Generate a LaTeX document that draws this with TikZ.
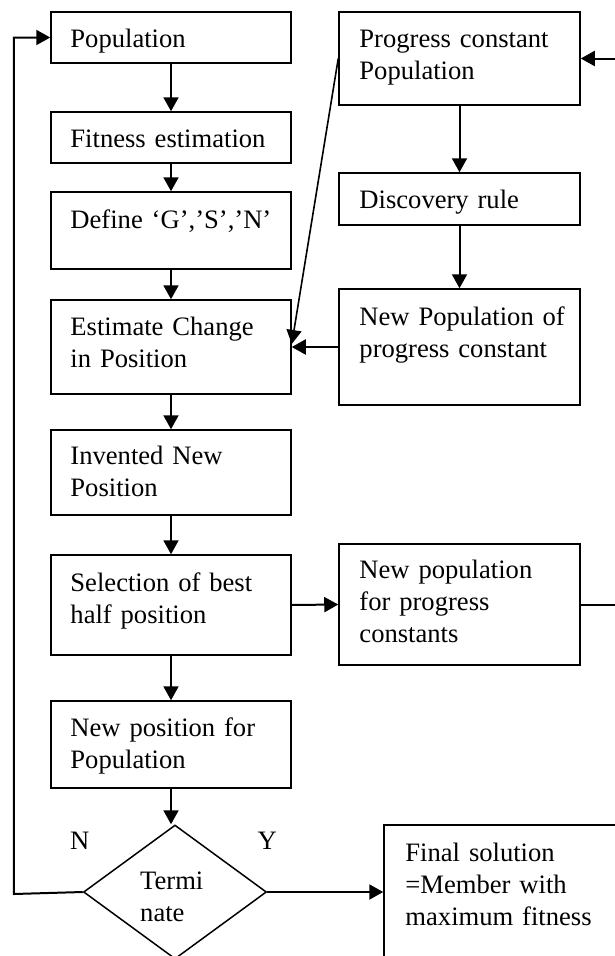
\documentclass[tikz,border=0pt]{standalone}
\usepackage{fontspec}
\setmainfont{Liberation Serif}
\usetikzlibrary{shapes.geometric, arrows.meta, positioning, calc}

\begin{document}
\begin{tikzpicture}[
    x=1pt, y=-1pt,
    stepbox/.style={rectangle, draw=black, line width=1.5pt, minimum width=240pt, inner sep=0pt},
    decision/.style={diamond, draw=black, line width=1.5pt, minimum width=183pt, minimum height=134pt, inner sep=0pt},
    txt/.style={anchor=base west, inner sep=0pt, text width=225pt, align=left, font=\fontsize{26.6pt}{32pt}\selectfont},
    flaglbl/.style={inner sep=0pt, font=\fontsize{26.6pt}{32pt}\selectfont},
    arrow/.style={line width=2pt, -{Triangle[length=14pt,width=15pt]}}
]
\useasboundingbox (0,0) rectangle (615,956);
\clip (0,0) rectangle (615,956);

% Main column
\node[stepbox, minimum height=51pt] (pop) at (171, 37.5) {};
\node[stepbox, minimum height=51pt] (fit) at (171, 137.5) {};
\node[stepbox, minimum height=77pt] (def) at (171, 230.5) {};
\node[stepbox, minimum height=94pt] (est) at (171, 347) {};
\node[stepbox, minimum height=85pt] (inv) at (171, 472.5) {};
\node[stepbox, minimum height=100pt] (sel) at (171, 605) {};
\node[stepbox, minimum height=87pt] (newpos) at (171, 744.5) {};
\node[decision] (term) at (175, 892) {};

\node[txt] (pop-t) at ([shift={(20,36)}]pop.north west) {Population};
\node[txt] (fit-t) at ([shift={(20,36)}]fit.north west) {Fitness estimation};
\node[txt] (def-t) at ([shift={(20,37)}]def.north west) {Define ‘G’,’S’,’N’};
\node[txt] (est-t) at ([shift={(20,36)}]est.north west) {Estimate Change\\in Position};
\node[txt] (inv-t) at ([shift={(20,35)}]inv.north west) {Invented New\\Position};
\node[txt] (sel-t) at ([shift={(20,37)}]sel.north west) {Selection of best\\half position};
\node[txt] (newpos-t) at ([shift={(20,36)}]newpos.north west) {New position for\\Population};
\node[txt] (term-t) at ([shift={(-35,-3)}]term.center) {Termi\\nate};
\node[flaglbl] (no) at ([shift={(-3,-51)}]term.west) {N};
\node[flaglbl] (yes) at ([shift={(0,-51)}]term.east) {Y};

% Progress constant column
\node[stepbox, minimum width=241pt, minimum height=93pt] (pc) at (459.5, 58.5) {};
\node[stepbox, minimum width=241pt, minimum height=52pt] (disc) at (459.5, 199) {};
\node[stepbox, minimum width=241pt, minimum height=116pt] (newpc) at (459.5, 347) {};
\node[stepbox, minimum width=241pt, minimum height=121pt] (npop) at (459.5, 604.5) {};
\node[stepbox, minimum width=260pt, minimum height=160pt] (final) at (514, 905) {};

\node[txt] (pc-t) at ([shift={(21,36)}]pc.north west) {Progress constant\\Population};
\node[txt] (disc-t) at ([shift={(21,36)}]disc.north west) {Discovery rule};
\node[txt] (newpc-t) at ([shift={(21,37)}]newpc.north west) {New Population of\\progress constant};
\node[txt] (npop-t) at ([shift={(21,35)}]npop.north west) {New population\\for progress\\constants};
\node[txt] (final-t) at ([shift={(22,37)}]final.north west) {Final solution\\=Member with\\maximum fitness};

% Flow
\draw[arrow] (pop) -- (fit);
\draw[arrow] (fit) -- (def);
\draw[arrow] (def) -- (est);
\draw[arrow] (est) -- (inv);
\draw[arrow] (inv) -- (sel);
\draw[arrow] (sel) -- (newpos);
\draw[arrow] (newpos.south) -- (newpos.south |- term.north);
\draw[arrow] (term.east) -- (term.east -| final.west);
\draw[arrow] (sel.east) -- (npop.west);
\draw[arrow] (pc) -- (disc);
\draw[arrow] (disc) -- (newpc);
\draw[arrow] (newpc.west) -- (est.east);
\draw[arrow, line width=1.6pt] (pc.west) -- ([yshift=3pt]est.east);

% Loops
\draw[arrow] (term.west) -- ++(-69,2) |- (pop.west);
\draw[arrow] (npop.east) -- ++(45,0) |- (pc.east);

\end{tikzpicture}
\end{document}
